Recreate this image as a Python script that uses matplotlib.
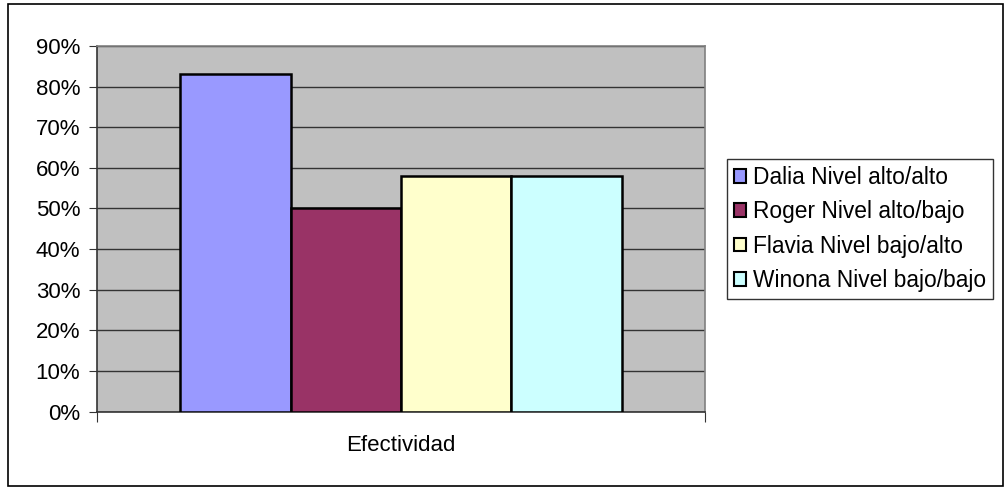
import matplotlib
matplotlib.use("Agg")
import matplotlib.pyplot as plt
from matplotlib.patches import Rectangle
from matplotlib.ticker import MultipleLocator, PercentFormatter

plt.rcParams['font.family'] = ['Liberation Sans', 'DejaVu Sans']

category = "Efectividad"
series_names = ["Dalia Nivel alto/alto", "Roger Nivel alto/bajo",
                "Flavia Nivel bajo/alto", "Winona Nivel bajo/bajo"]
values = [83, 50, 58, 58]
colors = ["#9999FF", "#993366", "#FFFFCC", "#CCFFFF"]

W, H = 1005, 488
fig = plt.figure(figsize=(W / 100, H / 100), dpi=100)

# outer chart frame
fig.patches.append(Rectangle((8 / W, 2 / H), 995 / W, 482 / H,
                             transform=fig.transFigure, fill=False,
                             edgecolor="black", linewidth=1.2))

ax = fig.add_axes([97 / W, (H - 411.5) / H, 608 / W, 365.5 / H])
ax.set_facecolor("#C0C0C0")

bar_w = 0.1815
n = len(values)
for i, (name, v, c) in enumerate(zip(series_names, values, colors)):
    x = (i - (n - 1) / 2) * bar_w
    ax.bar(x, v, width=bar_w, color=c, edgecolor="black", linewidth=1.8,
           label=name, zorder=3)

ax.set_xlim(-0.5, 0.5)
ax.set_ylim(0, 90)
ax.yaxis.set_major_locator(MultipleLocator(10))
ax.yaxis.set_major_formatter(PercentFormatter(decimals=0))
ax.grid(axis="y", color="#333333", linewidth=1.0, zorder=0)
ax.set_axisbelow(True)

ax.set_xticks([-0.5, 0.5])
ax.set_xticklabels(["", ""])
ax.tick_params(axis="x", direction="out", length=7, color="#333333")
ax.tick_params(axis="y", direction="out", length=6, color="#333333",
               labelsize=16, pad=6)
ax.text(0.5, -0.093, category, transform=ax.transAxes, ha="center",
        va="center", fontsize=16)

for side in ("left", "bottom"):
    ax.spines[side].set_color("#333333")
    ax.spines[side].set_linewidth(1.2)
for side in ("top", "right"):
    ax.spines[side].set_color("#808080")
    ax.spines[side].set_linewidth(1.2)

leg = fig.legend(loc="upper left", bbox_to_anchor=(727 / W, 1 - 159 / H),
                 fontsize=16.4, frameon=True, fancybox=False,
                 edgecolor="black", handlelength=0.55, handleheight=0.55,
                 handletextpad=0.3, labelspacing=0.5, borderpad=0.3,
                 borderaxespad=0)
leg.get_frame().set_linewidth(1.0)
for h in leg.legend_handles:
    h.set_linewidth(1.5)

fig.savefig("out.png", dpi=100)
